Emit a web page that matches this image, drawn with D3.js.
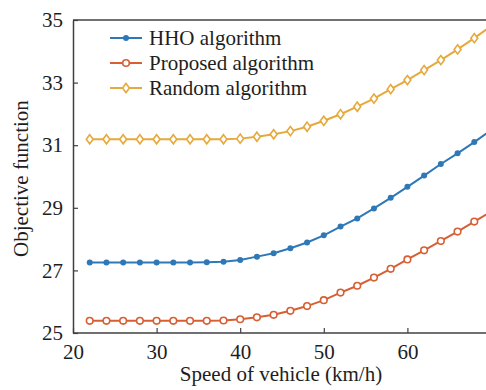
<!DOCTYPE html>
<html>
<head>
<meta charset="utf-8">
<script src="https://cdn.jsdelivr.net/npm/d3@7"></script>
<style>
  body { margin: 0; background: #fff; }
  svg { display: block; font-family: "Liberation Serif", "Times New Roman", serif; }
</style>
</head>
<body>
<svg id="chart" width="486" height="390"></svg>
<script>
const speeds = [22, 24, 26, 28, 30, 32, 34, 36, 38, 40, 42, 44, 46, 48, 50, 52, 54, 56, 58, 60, 62, 64, 66, 68, 70];
const hhoValues = [27.25, 27.25, 27.25, 27.25, 27.25, 27.25, 27.25, 27.26, 27.28, 27.33, 27.44, 27.55, 27.71, 27.89, 28.12, 28.40, 28.66, 28.98, 29.32, 29.67, 30.03, 30.40, 30.74, 31.10, 31.48];
const proposedValues = [25.39, 25.39, 25.39, 25.39, 25.39, 25.39, 25.39, 25.39, 25.40, 25.44, 25.50, 25.58, 25.71, 25.86, 26.05, 26.29, 26.51, 26.77, 27.05, 27.35, 27.64, 27.94, 28.24, 28.56, 28.88];
const randomValues = [31.19, 31.19, 31.19, 31.19, 31.19, 31.19, 31.19, 31.19, 31.19, 31.21, 31.27, 31.35, 31.45, 31.59, 31.78, 31.99, 32.23, 32.49, 32.79, 33.08, 33.40, 33.72, 34.06, 34.42, 34.80];
const xTicks = [20, 30, 40, 50, 60];
const yTicks = [25, 27, 29, 31, 33, 35];

const series = [
  { name: "HHO algorithm", values: hhoValues, color: "#2f78b7", marker: "dot" },
  { name: "Proposed algorithm", values: proposedValues, color: "#d65f33", marker: "ring" },
  { name: "Random algorithm", values: randomValues, color: "#e6a93b", marker: "diamond" },
];

const svg = d3.select("#chart");
const plotLeft = 73, plotRight = 491, plotTop = 20, plotBottom = 333;
const x = d3.scaleLinear().domain([20, 70]).range([plotLeft, plotRight]);
const y = d3.scaleLinear().domain([25, 35]).range([plotBottom, plotTop]);
const axisColor = "#404040";
const textColor = "#1e1e1e";
const fontSize = "21px";

const defs = svg.append("defs");
defs.append("clipPath").attr("id", "clip")
  .append("rect").attr("x", plotLeft).attr("y", plotTop - 6)
  .attr("width", plotRight - plotLeft).attr("height", plotBottom - plotTop + 12);

const line = d3.line().x((d, i) => x(speeds[i])).y((d) => y(d));

function drawMarker(g, type, color, cx, cy) {
  if (type === "dot") {
    g.append("circle").attr("cx", cx).attr("cy", cy).attr("r", 3).attr("fill", color);
  } else if (type === "ring") {
    g.append("circle").attr("cx", cx).attr("cy", cy).attr("r", 3.3)
      .attr("fill", "#fff").attr("stroke", color).attr("stroke-width", 1.6);
  } else {
    const s = 4.6;
    g.append("path").attr("d", `M${cx} ${cy - s} L${cx + s * 0.75} ${cy} L${cx} ${cy + s} L${cx - s * 0.75} ${cy} Z`)
      .attr("fill", "#fff").attr("stroke", color).attr("stroke-width", 1.6);
  }
}

const dataLayer = svg.append("g").attr("clip-path", "url(#clip)");
series.forEach((s) => {
  dataLayer.append("path").attr("d", line(s.values))
    .attr("fill", "none").attr("stroke", s.color).attr("stroke-width", 2);
  const mg = dataLayer.append("g");
  s.values.forEach((v, i) => drawMarker(mg, s.marker, s.color, x(speeds[i]), y(v)));
});

// axes with inward ticks
const xAxis = d3.axisBottom(x).tickValues(xTicks).tickSize(-5).tickPadding(11).tickSizeOuter(0);
const yAxis = d3.axisLeft(y).tickValues(yTicks).tickSize(-5).tickPadding(10).tickSizeOuter(0);

const gx = svg.append("g").attr("transform", `translate(0,${plotBottom})`).call(xAxis);
const gy = svg.append("g").attr("transform", `translate(${plotLeft},0)`).call(yAxis);
gx.select(".domain").attr("d", `M${plotLeft},0H${plotRight}`);
[gx, gy].forEach((g) => {
  g.select(".domain").attr("stroke", axisColor).attr("stroke-width", 1.5);
  g.selectAll(".tick line").attr("stroke", axisColor).attr("stroke-width", 1.2);
  g.selectAll(".tick text").attr("fill", textColor).style("font-size", fontSize).style("font-family", "Liberation Serif");
});
svg.append("line").attr("x1", plotLeft).attr("x2", plotRight).attr("y1", plotTop).attr("y2", plotTop)
  .attr("stroke", axisColor).attr("stroke-width", 1.5);

svg.append("text").attr("x", 281).attr("y", 381).attr("text-anchor", "middle")
  .attr("fill", textColor).style("font-size", fontSize).text("Speed of vehicle (km/h)");
svg.append("text").attr("transform", "translate(28,257) rotate(-90)")
  .attr("text-anchor", "start").attr("fill", textColor).style("font-size", fontSize).text("Objective function");

// legend
const legend = svg.append("g");
series.forEach((s, i) => {
  const ly = 38 + i * 25;
  legend.append("line").attr("x1", 110).attr("x2", 142).attr("y1", ly).attr("y2", ly)
    .attr("stroke", s.color).attr("stroke-width", 2);
  drawMarker(legend, s.marker, s.color, 126, ly);
  legend.append("text").attr("x", 149).attr("y", ly).attr("dy", "0.33em")
    .attr("fill", textColor).style("font-size", fontSize).text(s.name);
});
</script>
</body>
</html>
